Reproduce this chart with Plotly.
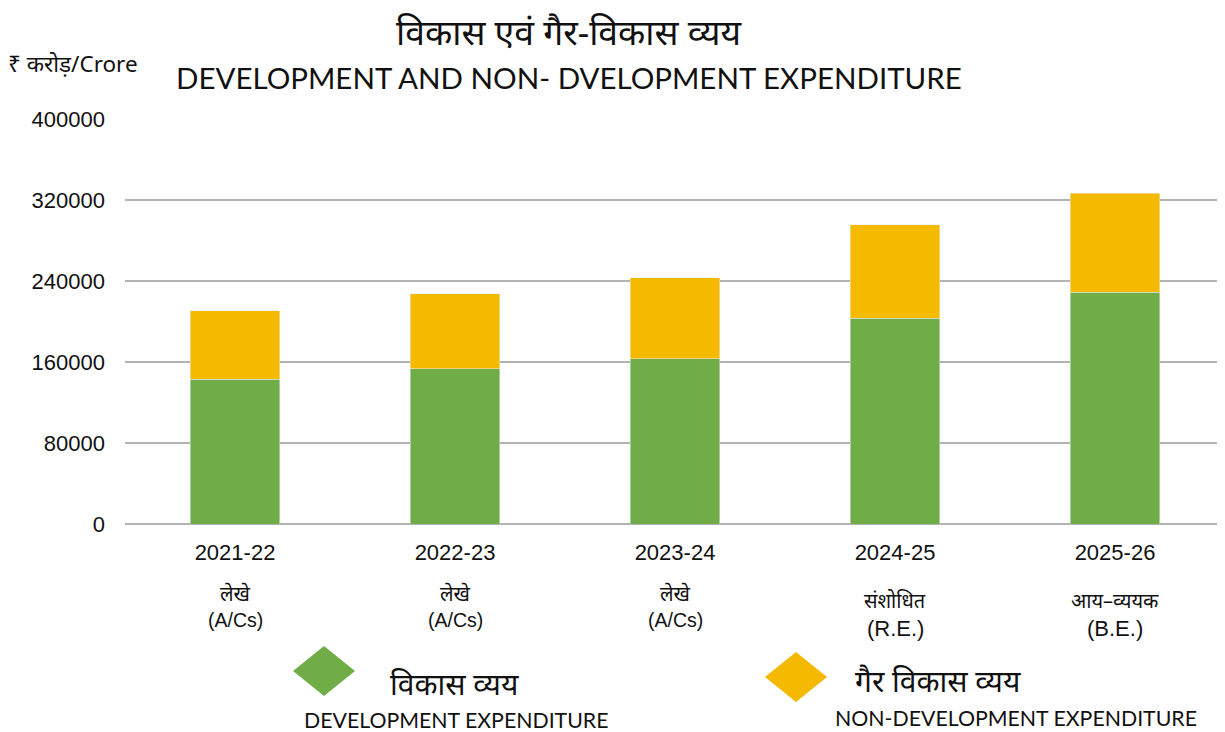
import plotly.graph_objects as go

years = ["2021-22", "2022-23", "2023-24", "2024-25", "2025-26"]
sub_hi = ["लेखे", "लेखे", "लेखे", "संशोधित", "आय–व्ययक"]
sub_en = ["(A/Cs)", "(A/Cs)", "(A/Cs)", "(R.E.)", "(B.E.)"]
development = [143200, 153100, 163400, 203200, 228900]
non_development = [67200, 74100, 79600, 92500, 97800]
y_ticks = [0, 80000, 160000, 240000, 320000, 400000]

GREEN = "#70AD47"
GOLD = "#F5BA00"
TXT = "#111111"
ARIAL = "Liberation Sans, Arial, sans-serif"
CAL = "Lato, Carlito, Calibri, sans-serif"
DEVA = "Noto Sans, sans-serif"

# page offset (default body margin) compensation
W, H = 1217, 724
L, R, T, B = 117, 0, 111, 208
PW, PH = W - L - R, H - T - B


def px(X):
    return (X - 8 - L) / PW


def py(Y):
    return (H - B - (Y - 8)) / PH


fig = go.Figure()
fig.add_trace(go.Bar(x=years, y=development, marker_color=GREEN, width=0.405,
                     name="विकास व्यय", showlegend=False))
fig.add_trace(go.Bar(x=years, y=non_development, marker_color=GOLD, width=0.405,
                     name="गैर विकास व्यय", showlegend=False))

fig.update_layout(
    barmode="stack",
    width=W, height=H,
    margin=dict(l=L, r=R, t=T, b=B, pad=0),
    plot_bgcolor="white", paper_bgcolor="white",
    font=dict(family=ARIAL, color=TXT),
    xaxis=dict(range=[-0.5, 4.5], showgrid=False, showline=False,
               tickfont=dict(size=22, family=ARIAL, color=TXT),
               ticks="", ticklabelstandoff=13),
    yaxis=dict(range=[0, 400000], tickvals=y_ticks,
               ticktext=[str(v) for v in y_ticks],
               showgrid=True, gridcolor="#b3b3b3", gridwidth=2,
               zeroline=True, zerolinecolor="#b3b3b3", zerolinewidth=2,
               tickfont=dict(size=22, family=ARIAL, color=TXT),
               ticklabelstandoff=19, showline=False),
)

# category sub-labels
for i, (h, e) in enumerate(zip(sub_hi, sub_en)):
    big = i >= 3
    fig.add_annotation(x=years[i], xref="x", xanchor="center", y=py(600 if big else 593),
                       yref="paper", yanchor="middle", text=h, showarrow=False,
                       font=dict(size=20, color=TXT, family=DEVA))
    fig.add_annotation(x=years[i], xref="x", xanchor="center", y=py(628 if big else 620),
                       yref="paper", yanchor="middle", text=e, showarrow=False,
                       font=dict(size=22 if big else 19.5, color=TXT, family=ARIAL))

# titles
fig.add_annotation(x=px(569), xref="paper", xanchor="center", y=py(31), yref="paper",
                   text="विकास एवं गैर-विकास व्यय", showarrow=False, yanchor="middle",
                   font=dict(size=35.5, color=TXT, family=DEVA))
fig.add_annotation(x=px(569), xref="paper", xanchor="center", y=py(77), yref="paper",
                   text="DEVELOPMENT AND NON- DVELOPMENT EXPENDITURE", showarrow=False,
                   yanchor="middle",
                   font=dict(size=29.5, color=TXT, family=CAL))
fig.add_annotation(x=px(6), xref="paper", xanchor="left", y=py(63), yref="paper",
                   text="₹ करोड़/Crore", showarrow=False, yanchor="middle",
                   font=dict(size=22.5, color=TXT, family=DEVA))


# legend (manual)
def diamond(cx, cy, w, h, color):
    x0, x1 = cx - w / 2, cx + w / 2
    y0, y1 = cy - h / 2, cy + h / 2
    path = (f"M {px(x0)},{py(cy)} L {px(cx)},{py(y0)} L {px(x1)},{py(cy)} "
            f"L {px(cx)},{py(y1)} Z")
    fig.add_shape(type="path", path=path, xref="paper", yref="paper",
                  fillcolor=color, line=dict(width=0))


diamond(324, 671, 62, 50, GREEN)
diamond(796, 677, 62, 50, GOLD)

fig.add_annotation(x=px(388), xref="paper", xanchor="left", y=py(683), yref="paper",
                   text="विकास व्यय", showarrow=False, yanchor="middle",
                   font=dict(size=30, color=TXT, family=DEVA))
fig.add_annotation(x=px(853), xref="paper", xanchor="left", y=py(680), yref="paper",
                   text="गैर विकास व्यय", showarrow=False, yanchor="middle",
                   font=dict(size=30, color=TXT, family=DEVA))
fig.add_annotation(x=px(456), xref="paper", xanchor="center", y=py(720), yref="paper",
                   text="DEVELOPMENT EXPENDITURE", showarrow=False, yanchor="middle",
                   font=dict(size=21.3, color=TXT, family=CAL))
fig.add_annotation(x=px(1016), xref="paper", xanchor="center", y=py(718), yref="paper",
                   text="NON-DEVELOPMENT EXPENDITURE", showarrow=False, yanchor="middle",
                   font=dict(size=21.3, color=TXT, family=CAL))

fig.write_html("out.html")
